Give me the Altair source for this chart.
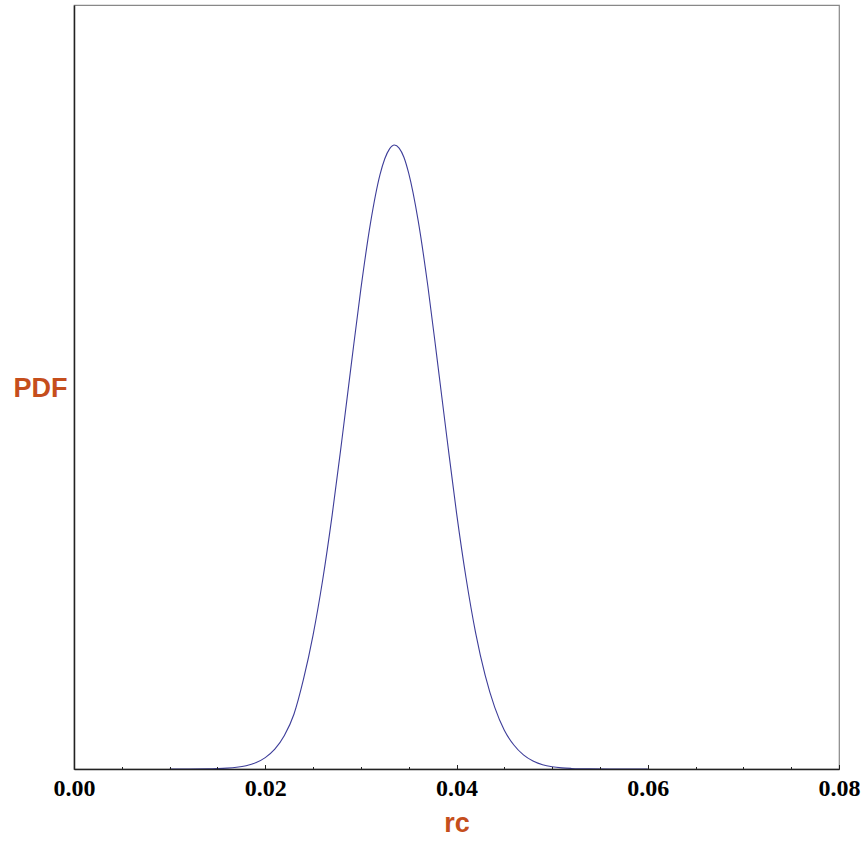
import altair as alt
import pandas as pd

# values
rc = [0.010, 0.012, 0.014, 0.015, 0.016, 0.017, 0.018, 0.019, 0.020, 0.021,
      0.022, 0.023, 0.024, 0.025, 0.026, 0.027, 0.028, 0.029, 0.030, 0.031,
      0.032, 0.0325, 0.033, 0.0335, 0.034, 0.0345, 0.035, 0.036, 0.037, 0.038,
      0.039, 0.040, 0.041, 0.042, 0.043, 0.044, 0.045, 0.046, 0.047, 0.048,
      0.049, 0.050, 0.051, 0.052, 0.053, 0.054, 0.056, 0.060]
pdf = [0.0, 0.003, 0.016, 0.05, 0.11, 0.22, 0.43, 0.82, 1.5, 2.6,
       4.4, 7.2, 11.8, 17.6, 24.8, 33.4, 43.1, 53.2, 63.1, 71.7,
       78.1, 80.2, 81.5, 82.0, 81.6, 80.4, 78.3, 72.0, 63.5, 53.6,
       43.5, 33.7, 25.1, 17.9, 12.3, 8.1, 5.1, 3.15, 1.85, 1.05,
       0.57, 0.30, 0.15, 0.075, 0.036, 0.017, 0.004, 0.0]

label_values = [0.0, 0.02, 0.04, 0.06, 0.08]
tick_values = [0.0, 0.005, 0.01, 0.015, 0.02, 0.025, 0.03, 0.035, 0.04,
               0.045, 0.05, 0.055, 0.06, 0.065, 0.07, 0.075, 0.08]

ORANGE = "#c54e1c"
W, H = 765, 764

df = pd.DataFrame({"rc": rc, "pdf": pdf})

x_scale = alt.Scale(domain=[0, 0.08], nice=False, zero=False)
y_scale = alt.Scale(domain=[0, 100.4], nice=False, zero=True)

y_axis = alt.Axis(
    title="PDF", titleAngle=0, titleAlign="right", titleBaseline="middle",
    titleX=-7, titleY=383, titleFont="Liberation Sans", titleFontSize=27,
    titleFontWeight="bold", titleColor=ORANGE,
    labels=False, ticks=False, grid=False,
    domainColor="#222222", domainWidth=1.5, zindex=1,
)

base = alt.Chart(df)

line = base.mark_line(color="#3d3d99", strokeWidth=1.1, interpolate="monotone").encode(
    x=alt.X("rc:Q", scale=x_scale, axis=alt.Axis(
        orient="bottom", values=label_values, format=".2f", ticks=False,
        labelFont="Liberation Serif", labelFontSize=24, labelFontWeight="bold",
        labelColor="black", labelPadding=7, labelFlush=False, labelOverlap=False,
        grid=False, domainColor="#222222", domainWidth=1.5, zindex=1,
        title="rc", titleFont="Liberation Sans", titleFontSize=27,
        titleFontWeight="bold", titleColor=ORANGE, titlePadding=10,
    )),
    y=alt.Y("pdf:Q", scale=y_scale, axis=y_axis),
)

ticks = base.mark_line(strokeOpacity=0).encode(
    x=alt.X("rc:Q", scale=x_scale, axis=alt.Axis(
        orient="top", offset=-H, values=tick_values, labels=False,
        domain=False, grid=False, title="", tickColor="#222222", tickWidth=1,
        zindex=1,
        tickSize={"condition": {"test": "abs(datum.value*50 - round(datum.value*50)) < 1e-6",
                                "value": 4.5}, "value": 2.5},
    )),
    y=alt.Y("pdf:Q", scale=y_scale, axis=y_axis),
)

chart = alt.layer(line, ticks).resolve_axis(x="independent").properties(
    width=W, height=H,
    autosize=alt.AutoSizeParams(type="none"),
    padding={"left": 74, "top": 5, "right": 25, "bottom": 72},
    background="white",
).configure_view(stroke="#888888", strokeWidth=1.2)

chart.save("out.html", embed_options={"renderer": "svg", "actions": False})
